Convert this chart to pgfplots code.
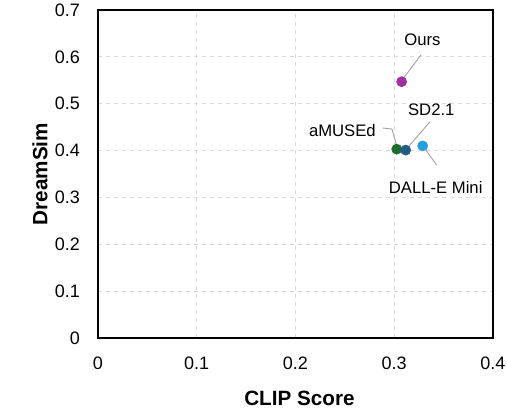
\documentclass[border=0pt]{standalone}
\usepackage{fontspec}
\setmainfont{Liberation Sans}
\usepackage{pgfplots}
\pgfplotsset{compat=1.18}
\usetikzlibrary{calc}
\definecolor{cOurs}{HTML}{A0309E}
\definecolor{cAmused}{HTML}{1F6E2E}
\definecolor{cSD}{HTML}{1F5C86}
\definecolor{cDalle}{HTML}{229FDD}
\definecolor{gridgray}{HTML}{D9D9D9}
\definecolor{leader}{HTML}{A6A6A6}
\begin{document}
\begin{tikzpicture}
\begin{axis}[
    scale only axis,
    width=296.25pt, height=246pt,
    xmin=0, xmax=0.4, ymin=0, ymax=0.7,
    xtick={0,0.1,...,0.4}, ytick={0,0.1,...,0.7},
    xticklabels={0,0.1,0.2,0.3,0.4},
    yticklabels={0,0.1,0.2,0.3,0.4,0.5,0.6,0.7},
    major tick length=0pt,
    grid=major,
    major grid style={gridgray, dashed, line width=0.6pt},
    axis line style={black, line width=0.8pt},
    tick label style={font=\fontsize{13.5}{15}\selectfont},
    xticklabel style={yshift=-10.5pt},
    yticklabel style={xshift=-10pt},
    xlabel={\bfseries CLIP Score},
    ylabel={\bfseries DreamSim},
    label style={font=\fontsize{15.5}{18}\selectfont},
    xlabel style={at={(axis description cs:0.51,-0.183)}, anchor=center},
    ylabel style={at={(axis description cs:-0.147,0.5)}, anchor=center},
    clip=false,
]
\coordinate (SW) at (rel axis cs:0,0);
\coordinate (NE) at (rel axis cs:1,1);
\addplot[only marks, mark=*, mark size=3.8pt, mark options={draw=cOurs, fill=cOurs}] coordinates {(0.3075,0.547)};
\addplot[only marks, mark=*, mark size=3.8pt, mark options={draw=cAmused, fill=cAmused}] coordinates {(0.3025,0.403)};
\addplot[only marks, mark=*, mark size=3.8pt, mark options={draw=cSD, fill=cSD}] coordinates {(0.3116,0.401)};
\addplot[only marks, mark=*, mark size=3.8pt, mark options={draw=cDalle, fill=cDalle}] coordinates {(0.3288,0.410)};
% leader lines and labels
\draw[leader, line width=0.7pt] (axis cs:0.327,0.604) -- (axis cs:0.3085,0.552);
\node[font=\fontsize{12.5}{14}\selectfont] at (axis cs:0.3285,0.636) {Ours};
\draw[leader, line width=0.7pt] (axis cs:0.336,0.461) -- (axis cs:0.313,0.405);
\node[font=\fontsize{12.5}{14}\selectfont] at (axis cs:0.3375,0.488) {SD2.1};
\draw[leader, line width=0.7pt] (axis cs:0.2886,0.448) -- (axis cs:0.2977,0.446) -- (axis cs:0.3028,0.408);
\node[font=\fontsize{12.5}{14}\selectfont, anchor=east, inner sep=0pt] at (axis cs:0.2815,0.443) {aMUSEd};
\draw[leader, line width=0.7pt] (axis cs:0.331,0.404) -- (axis cs:0.343,0.369);
\node[font=\fontsize{12.5}{14}\selectfont] at (axis cs:0.342,0.322) {DALL-E Mini};
\end{axis}
\pgfresetboundingbox
\path[use as bounding box] ($(SW)+(-73.5pt,-55.5pt)$) rectangle ($(NE)+(10.5pt,7.5pt)$);
\end{tikzpicture}
\end{document}
